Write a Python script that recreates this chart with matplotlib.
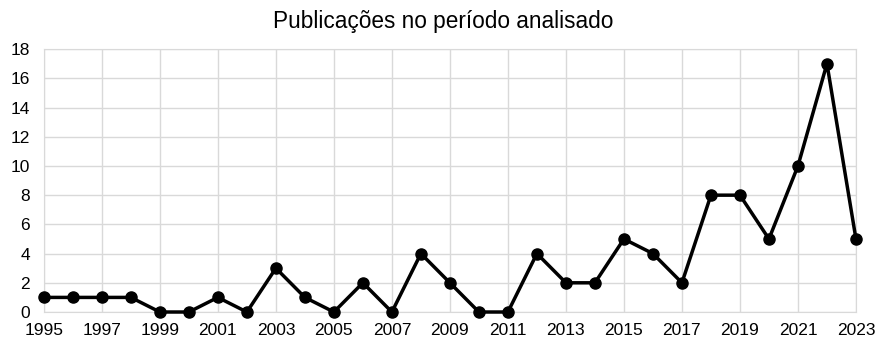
import matplotlib.pyplot as plt

plt.rcParams['font.family'] = ['Liberation Sans', 'DejaVu Sans']

# Data
years = list(range(1995, 2024))
counts = [1, 1, 1, 1, 0, 0, 1, 0, 3, 1, 0, 2, 0, 4, 2, 0, 0,
          4, 2, 2, 5, 4, 2, 8, 8, 5, 10, 17, 5]

fig, ax = plt.subplots(figsize=(8.77, 3.41), dpi=100)
fig.subplots_adjust(left=0.05, right=0.976, top=0.856, bottom=0.085)

ax.plot(years, counts, color='black', linewidth=2.5, marker='o',
        markersize=8, clip_on=False, zorder=3)

ax.set_xlim(1995, 2023)
ax.set_ylim(0, 18)
ax.set_xticks(range(1995, 2024, 2))
ax.set_yticks(range(0, 19, 2))
ax.grid(True, color='#d9d9d9', linewidth=1)
ax.set_axisbelow(True)
for s in ax.spines.values():
    s.set_color('#d9d9d9')
ax.tick_params(length=0, labelsize=12.5)
ax.tick_params(axis='y', pad=10)
ax.tick_params(axis='x', pad=8)

fig.text(0.505, 0.918, 'Publicações no período analisado', fontsize=16.3,
         ha='center', va='baseline')

plt.savefig('out.png', dpi=100)
